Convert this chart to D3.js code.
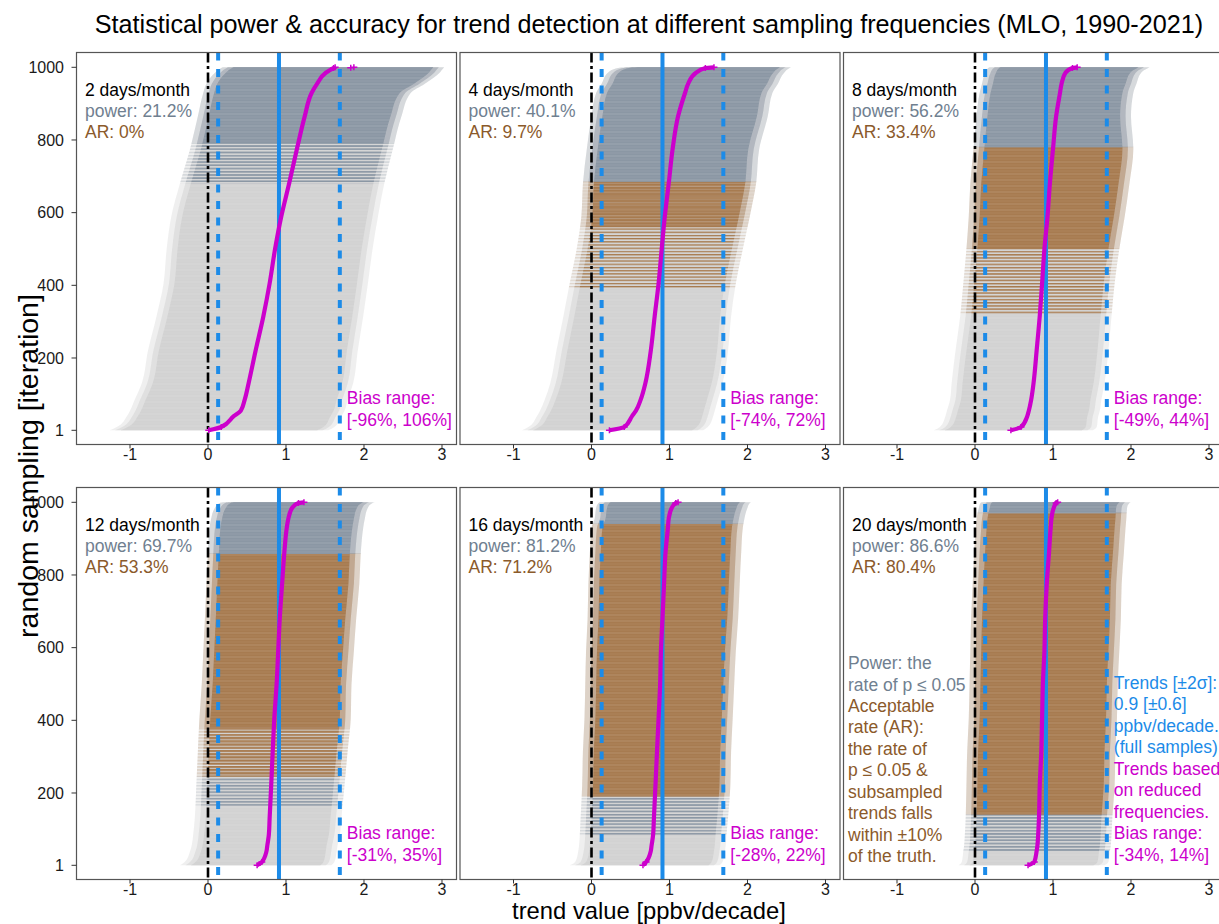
<!DOCTYPE html>
<html><head><meta charset="utf-8">
<script src="https://cdn.jsdelivr.net/npm/d3@7"></script>
<style>
body{margin:0;background:#fff}
svg{display:block}
text{font-family:"Liberation Sans",Arial,sans-serif}
</style>
</head><body>
<svg id="c" width="1219" height="924"></svg>
<script>
// ---------------- data ----------------
const chartTitle = "Statistical power & accuracy for trend detection at different sampling frequencies (MLO, 1990-2021)";
const xLabel = "trend value [ppbv/decade]";
const yLabel = "random sampling [iteration]";
const xTicks = [-1, 0, 1, 2, 3];
const yTicks = [1, 200, 400, 600, 800, 1000];

const panelNames = ["2 days/month", "4 days/month", "8 days/month", "12 days/month", "16 days/month", "20 days/month"];
const powerRates = ["21.2%", "40.1%", "56.2%", "69.7%", "81.2%", "86.6%"];
const acceptRates = ["0%", "9.7%", "33.4%", "53.3%", "71.2%", "80.4%"];
const biasRanges = ["[-96%, 106%]", "[-74%, 72%]", "[-49%, 44%]", "[-31%, 35%]", "[-28%, 22%]", "[-34%, 14%]"];

// full-sample trend and its ±2σ range
const fullTrend = 0.91, fullLow = 0.13, fullHigh = 1.69;

// iterations (sorted by trend) at which the curves were read
const iterations = [1, 10, 40, 55, 85, 130, 220, 315, 405, 500, 590, 680, 775, 865, 930, 955, 985, 998, 1000];

// sorted subsampled trends (magenta)
const trend2  = [0.01,0.17,0.33,0.42,0.47,0.52,0.61,0.71,0.79,0.86,0.94,1.04,1.14,1.24,1.33,1.40,1.51,1.61,1.63];
const trend4  = [0.23,0.42,0.52,0.57,0.63,0.69,0.76,0.81,0.86,0.90,0.94,0.99,1.04,1.11,1.20,1.24,1.34,1.46,1.57];
const trend8  = [0.46,0.59,0.67,0.69,0.72,0.75,0.79,0.83,0.86,0.89,0.93,0.96,1.00,1.04,1.09,1.11,1.16,1.25,1.31];
const trend12 = [0.63,0.69,0.75,0.76,0.78,0.79,0.81,0.83,0.85,0.88,0.90,0.92,0.95,0.98,1.01,1.03,1.08,1.16,1.23];
const trend16 = [0.66,0.70,0.76,0.77,0.79,0.80,0.82,0.84,0.86,0.88,0.89,0.91,0.93,0.95,0.98,0.99,1.03,1.08,1.11];
const trend20 = [0.68,0.76,0.79,0.80,0.81,0.82,0.83,0.85,0.86,0.87,0.89,0.90,0.92,0.95,0.97,0.98,1.01,1.04,1.06];

// lower ends of the ±2σ error bars
const lower2  = [-1.12,-1.03,-0.90,-0.86,-0.80,-0.71,-0.63,-0.52,-0.43,-0.39,-0.33,-0.22,-0.09,0.01,0.08,0.12,0.23,0.31,0.33];
const lower4  = [-0.75,-0.67,-0.56,-0.52,-0.46,-0.39,-0.31,-0.22,-0.14,-0.05,0.01,0.03,0.08,0.14,0.20,0.27,0.35,0.48,0.59];
const lower8  = [-0.39,-0.31,-0.24,-0.22,-0.18,-0.16,-0.11,-0.05,-0.01,0.03,0.06,0.08,0.12,0.16,0.20,0.23,0.27,0.31,0.33];
const lower12 = [-0.22,-0.16,-0.09,-0.07,-0.05,-0.03,-0.01,0.01,0.03,0.06,0.08,0.10,0.12,0.14,0.16,0.18,0.23,0.29,0.33];
const lower16 = [-0.14,-0.07,-0.03,-0.02,-0.01,0.00,0.02,0.03,0.05,0.06,0.07,0.09,0.10,0.12,0.14,0.18,0.20,0.23,0.25];
const lower20 = [-0.07,-0.03,-0.01,0.00,0.01,0.02,0.03,0.04,0.06,0.07,0.08,0.09,0.11,0.13,0.15,0.16,0.19,0.21,0.23];

// upper ends of the ±2σ error bars
const upper2  = [1.40,1.48,1.57,1.61,1.65,1.72,1.78,1.85,1.91,1.97,2.04,2.12,2.23,2.34,2.46,2.64,2.83,2.88,2.89];
const upper4  = [1.29,1.35,1.42,1.44,1.48,1.54,1.61,1.65,1.71,1.80,1.89,1.97,2.01,2.12,2.18,2.25,2.33,2.40,2.42];
const upper8  = [1.37,1.42,1.44,1.46,1.48,1.52,1.57,1.61,1.65,1.71,1.78,1.84,1.89,1.86,1.89,1.93,1.99,2.08,2.10];
const upper12 = [1.44,1.48,1.51,1.52,1.55,1.57,1.61,1.65,1.69,1.70,1.73,1.76,1.80,1.82,1.85,1.87,1.91,1.97,2.00];
const upper16 = [1.50,1.54,1.57,1.58,1.59,1.61,1.64,1.65,1.67,1.69,1.71,1.74,1.76,1.78,1.80,1.82,1.86,1.89,1.91];
const upper20 = [1.52,1.57,1.59,1.60,1.61,1.62,1.65,1.66,1.68,1.69,1.71,1.73,1.74,1.77,1.79,1.80,1.81,1.84,1.86];

// iteration ranges by bar class: [from, to, class, share of bars in that class]
const classes2  = [[680,790,"sig",0.5],[790,1000,"sig",1]];
const classes4  = [[390,560,"acc",0.35],[560,685,"acc",0.9],[685,1000,"sig",1]];
const classes8  = [[320,500,"acc",0.4],[500,780,"acc",1],[780,1000,"sig",1]];
const classes12 = [[165,245,"sig",0.4],[245,380,"acc",0.65],[380,858,"acc",1],[858,1000,"sig",1]];
const classes16 = [[85,190,"sig",0.45],[190,940,"acc",1],[940,1000,"sig",1]];
const classes20 = [[40,141,"sig",0.5],[141,970,"acc",1],[970,1000,"sig",1]];

// isolated extreme trends drawn as single points
const extremes2 = [[999,1.83],[1000,1.87]];

const noteLeftPower = ["Power: the", "rate of p ≤ 0.05"];
const noteLeftAR = ["Acceptable", "rate (AR):", "the rate of", "p ≤ 0.05 &", "subsampled", "trends falls", "within ±10%", "of the truth."];
const noteRightFull = ["Trends [±2σ]:", "0.9 [±0.6]", "ppbv/decade.", "(full samples)"];
const noteRightSub = ["Trends based", "on reduced", "frequencies."];

// ---------------- drawing ----------------
const panels = [
  {trend:trend2, lower:lower2, upper:upper2, classes:classes2, extremes:extremes2},
  {trend:trend4, lower:lower4, upper:upper4, classes:classes4, extremes:[]},
  {trend:trend8, lower:lower8, upper:upper8, classes:classes8, extremes:[]},
  {trend:trend12, lower:lower12, upper:upper12, classes:classes12, extremes:[]},
  {trend:trend16, lower:lower16, upper:upper16, classes:classes16, extremes:[]},
  {trend:trend20, lower:lower20, upper:upper20, classes:classes20, extremes:[]}
];

const COL = {
  ns:"#d2d2d2", sig:"#8b97a4", acc:"#a77b50",
  powerTxt:"#708090", arTxt:"#8B5A2B", blue:"#1C8BE8", magenta:"#CC00CC"
};

const svg = d3.select("#c");
const colLeft = [76.5, 460, 843.5], rowTop = [52.5, 487.5];
const PW = 380, PH = 392;
const x = d3.scaleLinear().domain([-1.686, 3.186]).range([0, PW]);
const y = d3.scaleLinear().domain([1, 1000]).range([377.8, 14.8]);

const defs = svg.append("defs");
const pat = defs.append("pattern").attr("id","stripes").attr("patternUnits","userSpaceOnUse")
  .attr("width",8).attr("height",6);
pat.append("rect").attr("y",1).attr("width",8).attr("height",0.7).attr("fill","#fff").attr("opacity",0.22);
pat.append("rect").attr("y",4).attr("width",8).attr("height",0.5).attr("fill","#fff").attr("opacity",0.12);

// interleaved-bar fill for ranges where only part of the bars belong to a class
function mixFill(cls, share) {
  if (share >= 1) return COL[cls];
  const id = `mix_${cls}_${Math.round(share * 100)}`;
  if (defs.select("#" + id).empty()) {
    const P = 3.2;
    const pp = defs.append("pattern").attr("id", id).attr("patternUnits", "userSpaceOnUse")
      .attr("width", 8).attr("height", P);
    pp.append("rect").attr("width", 8).attr("height", P * share).attr("fill", COL[cls]);
  }
  return `url(#${id})`;
}

const FS = 17.5;

panels.forEach((p, i) => {
  const col = i % 3, row = Math.floor(i / 3);
  const g = svg.append("g").attr("transform", `translate(${colLeft[col]},${rowTop[row]})`);
  const clipId = "clip" + i;
  defs.append("clipPath").attr("id", clipId).append("rect").attr("width", PW).attr("height", PH);
  const inner = g.append("g").attr("clip-path", `url(#${clipId})`);

  const pts = iterations.map((it, k) => ({it, t:p.trend[k], lo:p.lower[k], hi:p.upper[k]}));
  const body = d3.area().curve(d3.curveMonotoneY).y(d => y(d.it)).x0(d => x(d.lo)).x1(d => x(d.hi));
  const fringe = d3.area().curve(d3.curveMonotoneY).y(d => y(d.it)).x0(d => x(d.lo - 0.14)).x1(d => x(d.hi + 0.14));
  const fringe2 = d3.area().curve(d3.curveMonotoneY).y(d => y(d.it)).x0(d => x(d.lo - 0.07)).x1(d => x(d.hi + 0.07));

  // not-significant bars (base)
  inner.append("path").attr("d", fringe(pts)).attr("fill", COL.ns).attr("opacity", 0.35);
  inner.append("path").attr("d", fringe2(pts)).attr("fill", COL.ns).attr("opacity", 0.5);
  inner.append("path").attr("d", body(pts)).attr("fill", COL.ns);

  // significant / acceptable classes
  p.classes.forEach((c, j) => {
    const cid = `cl${i}_${j}`;
    defs.append("clipPath").attr("id", cid).append("rect")
      .attr("x", -10).attr("width", PW + 20)
      .attr("y", y(c[1]) - 0.6).attr("height", y(c[0]) - y(c[1]) + 0.6);
    const cg = inner.append("g").attr("clip-path", `url(#${cid})`);
    const f = mixFill(c[2], c[3]);
    cg.append("path").attr("d", fringe(pts)).attr("fill", f).attr("opacity", 0.25);
    cg.append("path").attr("d", fringe2(pts)).attr("fill", f).attr("opacity", 0.4);
    cg.append("path").attr("d", body(pts)).attr("fill", f);
  });
  inner.append("path").attr("d", body(pts)).attr("fill", "url(#stripes)");

  // reference lines
  inner.append("line").attr("x1", x(0)).attr("x2", x(0)).attr("y1", 0).attr("y2", PH)
    .attr("stroke", "#000").attr("stroke-width", 2.6).attr("stroke-dasharray", "10,3.5,3,3.5");
  [fullLow, fullHigh].forEach(v => inner.append("line").attr("x1", x(v)).attr("x2", x(v)).attr("y1", 0).attr("y2", PH)
    .attr("stroke", COL.blue).attr("stroke-width", 4).attr("stroke-dasharray", "8,8.5"));
  inner.append("line").attr("x1", x(fullTrend)).attr("x2", x(fullTrend)).attr("y1", 0).attr("y2", PH)
    .attr("stroke", COL.blue).attr("stroke-width", 4);

  // subsampled trend curve
  const line = d3.line().curve(d3.curveMonotoneY).y(d => y(d.it)).x(d => x(d.t));
  inner.append("path").attr("d", line(pts)).attr("fill", "none").attr("stroke", COL.magenta).attr("stroke-width", 4.2);
  const plusPts = [pts[0], pts[1], pts[pts.length-2], pts[pts.length-1]].map(d => [d.it, d.t]).concat(p.extremes);
  inner.selectAll(".plus").data(plusPts).join("path")
    .attr("d", "M-3.5,0H3.5M0,-3V3").attr("transform", d => `translate(${x(d[1])},${y(d[0])})`)
    .attr("stroke", COL.magenta).attr("stroke-width", 1.5).attr("fill", "none");

  // frame
  g.append("rect").attr("width", PW).attr("height", PH).attr("fill", "none").attr("stroke", "#555").attr("stroke-width", 1.2);

  // x axis
  const xa = g.append("g").attr("transform", `translate(0,${PH})`);
  xTicks.forEach(t => {
    xa.append("line").attr("x1", x(t)).attr("x2", x(t)).attr("y1", 0).attr("y2", 4).attr("stroke", "#333").attr("stroke-width", 1);
    xa.append("text").attr("x", x(t)).attr("y", 15.8).attr("text-anchor", "middle").attr("font-size", 16).attr("fill", "#1a1a1a").text(t);
  });
  // y axis on left column
  if (col === 0) {
    yTicks.forEach(t => {
      g.append("line").attr("x1", -5).attr("x2", 0).attr("y1", y(t)).attr("y2", y(t)).attr("stroke", "#333");
      g.append("text").attr("x", -12.5).attr("y", y(t)).attr("dy", "0.36em").attr("text-anchor", "end")
        .attr("font-size", 16).attr("fill", "#1a1a1a").text(t);
    });
  }

  // panel texts
  g.append("text").attr("x", 8.5).attr("y", 43).attr("font-size", FS).attr("fill", "#000").text(panelNames[i]);
  g.append("text").attr("x", 8.5).attr("y", 64.3).attr("font-size", FS).attr("fill", COL.powerTxt).text("power: " + powerRates[i]);
  g.append("text").attr("x", 8.5).attr("y", 85.6).attr("font-size", FS).attr("fill", COL.arTxt).text("AR: " + acceptRates[i]);
  g.append("text").attr("x", x(1.78)).attr("y", 351.3).attr("font-size", FS).attr("fill", COL.magenta).text("Bias range:");
  g.append("text").attr("x", x(1.78)).attr("y", 373.1).attr("font-size", FS).attr("fill", COL.magenta).text(biasRanges[i]);

  if (i === 5) {
    const L = 21.45;
    noteLeftPower.concat(noteLeftAR).forEach((s, k) => {
      g.append("text").attr("x", 4.5).attr("y", 181.6 + k * L).attr("font-size", FS)
        .attr("fill", k < noteLeftPower.length ? COL.powerTxt : COL.arTxt).text(s);
    });
    noteRightFull.concat(noteRightSub).forEach((s, k) => {
      g.append("text").attr("x", x(1.78)).attr("y", 373.1 - (9 - k) * L + L).attr("font-size", FS)
        .attr("fill", k < noteRightFull.length ? COL.blue : COL.magenta).text(s);
    });
  }
});

// titles
svg.append("text").attr("x", 649).attr("y", 33).attr("text-anchor", "middle").attr("font-size", 25.2).attr("fill", "#000").text(chartTitle);
svg.append("text").attr("x", 649).attr("y", 918.8).attr("text-anchor", "middle").attr("font-size", 23.8).attr("fill", "#000").text(xLabel);
svg.append("text").attr("transform", "translate(38,466) rotate(-90)").attr("text-anchor", "middle").attr("font-size", 28.5).attr("fill", "#000").text(yLabel);
</script>
</body></html>
